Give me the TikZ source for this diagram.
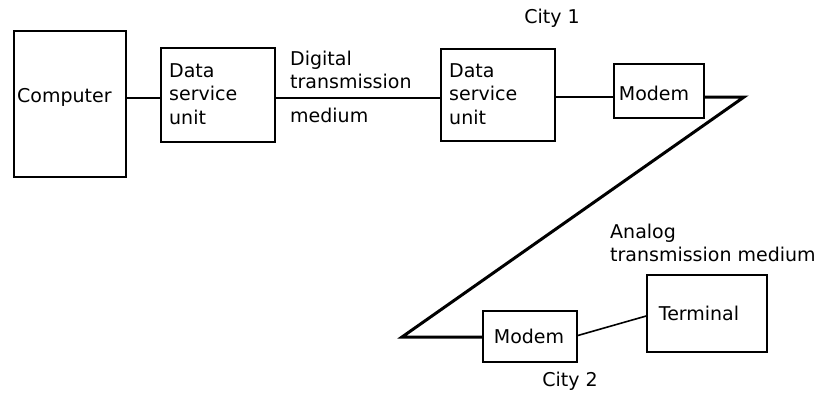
\documentclass[tikz,border=0pt]{standalone}
\usepackage{fontspec}
\setmainfont{DejaVu Sans}
\usetikzlibrary{calc}
\begin{document}
\begin{tikzpicture}[x=1pt,y=-1pt,
  box/.style={draw,line width=1.6pt,rectangle,inner sep=0pt},
  txt/.style={font=\fontsize{19}{23.5}\selectfont,inner sep=0pt,align=left},
  wire/.style={line width=1.6pt},
  analog/.style={line width=3pt,line join=miter,miter limit=20}]
\useasboundingbox (0,0) rectangle (826,405);
% boxes
\node[box,minimum width=112pt,minimum height=146pt] (comp) at (70,104) {};
\node[box,minimum width=114pt,minimum height=94pt] (dsuA) at (218,95) {};
\node[box,minimum width=114pt,minimum height=92pt] (dsuB) at (498,95) {};
\node[box,minimum width=90pt,minimum height=54pt] (modA) at (659,91) {};
\node[box,minimum width=94pt,minimum height=51pt] (modB) at (530,336.5) {};
\node[box,minimum width=120pt,minimum height=77pt] (term) at (707,313.5) {};
% texts
\node[txt,anchor=west] (tcomp) at (17,97) {Computer};
\node[txt,anchor=west] (tdsuA) at (169,94) {Data\\service\\unit};
\node[txt,anchor=west] (tdsuB) at (449,94) {Data\\service\\unit};
\node[txt] (tmodA) at (654,93) {Modem};
\node[txt] (tmodB) at (529,336) {Modem};
\node[txt] (tterm) at (699,313) {Terminal};
\node[txt,anchor=west] (dig) at (290,70) {Digital\\transmission};
\node[txt,anchor=west] (med) at (290,115) {medium};
\node[txt,anchor=west] (ana) at (610,243) {Analog\\transmission medium};
\node[txt] (cityA) at (552,18) {City 1};
\node[txt] (cityB) at (570,381) {City 2};
% levels and apexes
\coordinate (lvl) at (0,98);
\coordinate (lvlB) at (0,97);
\coordinate (apexA) at (744,97);
\coordinate (apexB) at (402,337);
% connectors
\draw[wire] (comp.east |- lvl) -- (dsuA.west |- lvl);
\draw[wire] (dsuA.east |- lvl) -- (dsuB.west |- lvl);
\draw[wire] (dsuB.east |- lvlB) -- (modA.west |- lvlB);
\draw[analog] (modA.east |- apexA) -- (apexA) -- (apexB) -- (modB.west |- apexB);
\draw[wire] ($(modB.east)+(0,-1)$) -- ($(term.west)+(0,2.5)$);
\end{tikzpicture}
\end{document}
